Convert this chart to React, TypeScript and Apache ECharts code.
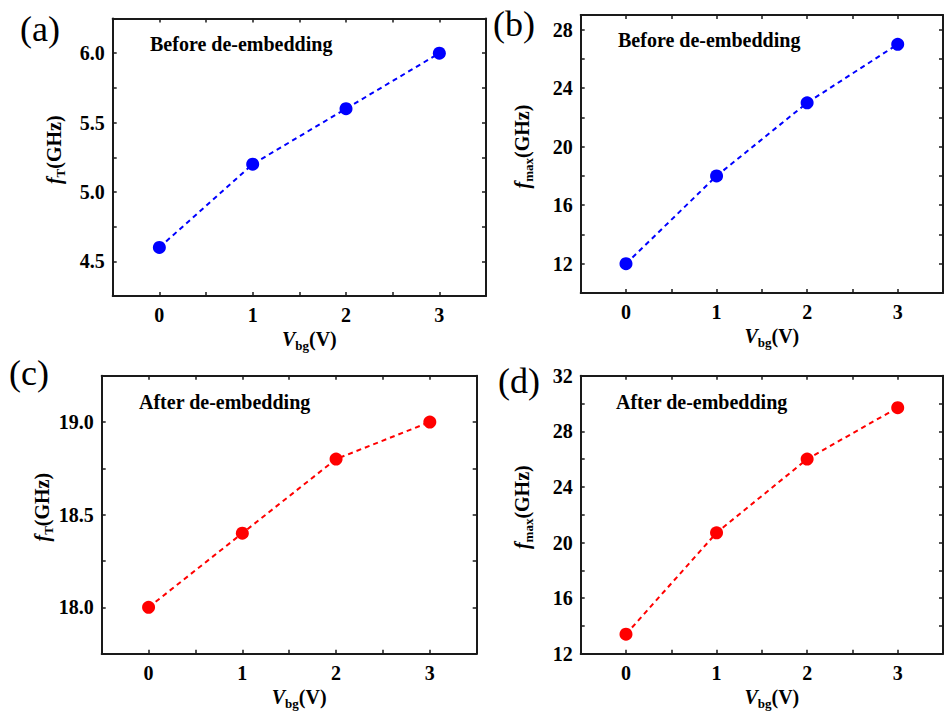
import React, { useEffect, useRef } from 'react';
import * as echarts from 'echarts';

const vbg = [0, 1, 2, 3];
const fTBefore = [4.6, 5.2, 5.6, 6.0];
const fmaxBefore = [12, 18, 23, 27];
const fTAfter = [18.0, 18.4, 18.8, 19.0];
const fmaxAfter = [13.4, 20.7, 26.0, 29.7];

const xTickLabels = [0, 1, 2, 3];
const yLabelsA = [4.5, 5.0, 5.5, 6.0];
const yLabelsB = [12, 16, 20, 24, 28];
const yLabelsC = [18.0, 18.5, 19.0];
const yLabelsD = [12, 16, 20, 24, 28, 32];

const panelLetters = ['(a)', '(b)', '(c)', '(d)'];
const panelNotes = ['Before de-embedding', 'Before de-embedding', 'After de-embedding', 'After de-embedding'];

const FONT = "'Liberation Serif', 'Times New Roman', Times, serif";
const BLUE = '#0000ff';
const RED = '#ff0000';

const panels = [
  { grid: { left: 112.7, top: 18.5, width: 373.3, height: 277.5 }, ymin: 4.25, ymax: 6.25, yint: 0.25, labels: yLabelsA, dec: 1, data: fTBefore, color: BLUE, sub: 'T' },
  { grid: { left: 580.7, top: 15, width: 373.3, height: 278 }, ymin: 10, ymax: 29, yint: 2, labels: yLabelsB, dec: 0, data: fmaxBefore, color: BLUE, sub: 'max' },
  { grid: { left: 101.7, top: 375.7, width: 375, height: 278 }, ymin: 17.75, ymax: 19.25, yint: 0.25, labels: yLabelsC, dec: 1, data: fTAfter, color: RED, sub: 'T' },
  { grid: { left: 580.7, top: 375.7, width: 373.3, height: 278 }, ymin: 12, ymax: 32, yint: 2, labels: yLabelsD, dec: 0, data: fmaxAfter, color: RED, sub: 'max' },
];

const letterPos = [
  { x: 20, y: 11 },
  { x: 493, y: 6 },
  { x: 9, y: 355 },
  { x: 498, y: 363 },
];
const notePos = [
  { x: 150, y: 34 },
  { x: 618, y: 30 },
  { x: 139, y: 392 },
  { x: 616, y: 392 },
];

const nameRich = {
  n: { fontSize: 20, fontWeight: 'bold', fontFamily: FONT, color: '#000', lineHeight: 26 },
  i: { fontSize: 20, fontWeight: 'bold', fontStyle: 'italic', fontFamily: FONT, color: '#000', lineHeight: 26 },
  s: { fontSize: 13, fontWeight: 'bold', fontFamily: FONT, color: '#000', lineHeight: 12, verticalAlign: 'bottom' },
};

const near = (arr: number[], v: number) => arr.some((t) => Math.abs(t - v) < 1e-6);

export default function App() {
  const ref = useRef<HTMLDivElement>(null);
  useEffect(() => {
    document.body.style.margin = '0';
    if (!ref.current) return;
    const chart = echarts.init(ref.current, null, { renderer: 'svg' });
    const lineCol = '#1a1a1a';
    const xAxes: any[] = [];
    const yAxes: any[] = [];
    const series: any[] = [];
    const grids: any[] = [];
    panels.forEach((p, i) => {
      grids.push({ ...p.grid, containLabel: false });
      const common = {
        gridIndex: i,
        type: 'value',
        splitLine: { show: false },
        axisLine: { show: true, onZero: false, lineStyle: { color: lineCol, width: 2 } },
        axisTick: { show: true, inside: true, length: 4, lineStyle: { color: lineCol, width: 1.5 } },
      };
      xAxes.push({
        ...common,
        position: 'bottom',
        min: -0.5,
        max: 3.5,
        interval: 0.5,
        axisLabel: {
          show: true,
          margin: 9,
          fontSize: 20,
          fontWeight: 'bold',
          fontFamily: FONT,
          color: '#000',
          formatter: (v: number) => (near(xTickLabels, v) ? String(Math.round(v)) : ''),
        },
        name: '{i|V}{s|bg}{n|(V)}',
        nameLocation: 'middle',
        nameGap: 30,
        nameTextStyle: { rich: nameRich, padding: [0, 0, 0, 20] },
      });
      xAxes.push({
        ...common,
        position: 'top',
        min: -0.5,
        max: 3.5,
        interval: 0.5,
        axisLabel: { show: false },
      });
      yAxes.push({
        ...common,
        position: 'left',
        min: p.ymin,
        max: p.ymax,
        interval: p.yint,
        axisLabel: {
          show: true,
          margin: 8,
          fontSize: 20,
          fontWeight: 'bold',
          fontFamily: FONT,
          color: '#000',
          showMinLabel: true,
          showMaxLabel: true,
          formatter: (v: number) => (near(p.labels, v) ? v.toFixed(p.dec) : ''),
        },
        name: '{i|f}{s|' + p.sub + '}{n|(GHz)}',
        nameLocation: 'middle',
        nameGap: 46,
        nameTextStyle: { rich: nameRich, padding: [0, 0, 0, 15] },
      });
      yAxes.push({
        ...common,
        position: 'right',
        min: p.ymin,
        max: p.ymax,
        interval: p.yint,
        axisLabel: { show: false },
      });
      series.push({
        type: 'line',
        xAxisIndex: 2 * i,
        yAxisIndex: 2 * i,
        data: vbg.map((x, k) => [x, p.data[k]]),
        symbol: 'circle',
        symbolSize: 13,
        itemStyle: { color: p.color },
        lineStyle: { color: p.color, width: 2, type: [5, 4] },
        z: 3,
      });
    });

    const graphics: any[] = [];
    panelLetters.forEach((t, i) => {
      graphics.push({
        type: 'text',
        x: letterPos[i].x,
        y: letterPos[i].y,
        style: { text: t, fontSize: 36, fontFamily: FONT, fill: '#000', verticalAlign: 'top' },
      });
    });
    panelNotes.forEach((t, i) => {
      graphics.push({
        type: 'text',
        x: notePos[i].x,
        y: notePos[i].y,
        style: { text: t, fontSize: 20, fontWeight: 'bold', fontFamily: FONT, fill: '#000', verticalAlign: 'top' },
      });
    });

    chart.setOption({
      animation: false,
      backgroundColor: '#fff',
      grid: grids,
      xAxis: xAxes,
      yAxis: yAxes,
      series,
      graphic: graphics,
    });
    return () => chart.dispose();
  }, []);
  return <div ref={ref} style={{ width: 946, height: 711 }} />;
}
